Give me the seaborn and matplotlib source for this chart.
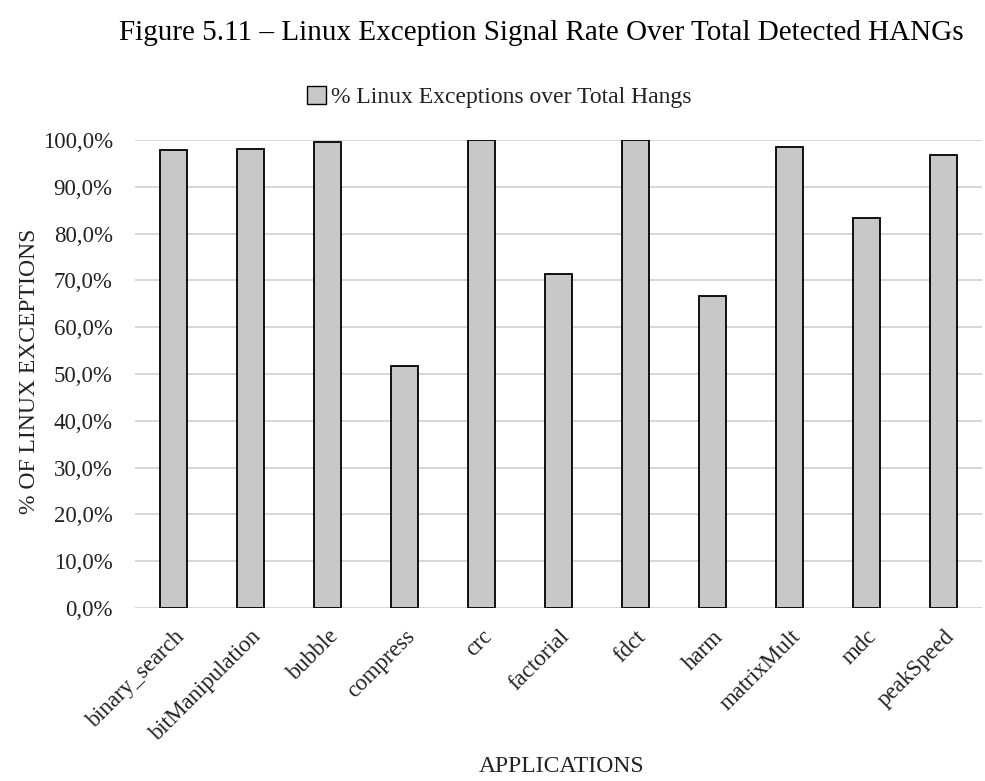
import matplotlib
matplotlib.use("Agg")
import matplotlib.pyplot as plt
import seaborn as sns
import pandas as pd
from matplotlib.ticker import FuncFormatter, MultipleLocator
from matplotlib.patches import Patch

applications = ["binary_search", "bitManipulation", "bubble", "compress", "crc",
                "factorial", "fdct", "harm", "matrixMult", "mdc", "peakSpeed"]
linux_exception_pct = [97.9, 98.1, 99.5, 51.7, 100.0, 71.4, 100.0, 66.7, 98.6, 83.3, 96.7]
series_name = "% Linux Exceptions over Total Hangs"

df = pd.DataFrame({"app": applications, "pct": linux_exception_pct})

sns.set_theme(style="white")
plt.rcParams["font.family"] = ["Liberation Serif", "DejaVu Serif"]

fig = plt.figure(figsize=(9.85, 7.81), dpi=100)
ax = fig.add_axes([0.137, 0.2215, 0.86, 0.5992])

sns.barplot(data=df, x="app", y="pct", color="#c8c8c8", width=0.34,
            edgecolor="black", linewidth=1.3, saturation=1, ax=ax, zorder=3)

ax.set_ylim(0, 100)
ax.set_xlim(-0.5, len(applications) - 0.5)
ax.yaxis.set_major_locator(MultipleLocator(10))
ax.yaxis.set_major_formatter(FuncFormatter(lambda v, _: f"{v:.1f}%".replace(".", ",")))
ax.grid(axis="y", color="#d0d0d0", linewidth=1.2, zorder=0)
ax.set_axisbelow(True)
for s in ax.spines.values():
    s.set_visible(False)

ax.tick_params(axis="y", labelsize=16.5, colors="#222222", pad=16, length=0)
ax.tick_params(axis="x", labelsize=16.5, colors="#222222", length=0, pad=13)
plt.setp(ax.get_xticklabels(), rotation=45, ha="right", rotation_mode="anchor")

ax.set_xlabel("")
ax.set_ylabel("")
fig.text(0.030, 0.524, "% OF LINUX EXCEPTIONS", rotation=90, ha="center", va="center",
         fontsize=17, color="#222222")
fig.text(0.57, 0.018, "APPLICATIONS", ha="center", va="center", fontsize=17, color="#222222")
fig.text(0.550, 0.958, "Figure 5.11 \u2013 Linux Exception Signal Rate Over Total Detected HANGs",
         ha="center", va="center", fontsize=21, color="black")

handle = Patch(facecolor="#c8c8c8", edgecolor="black", linewidth=1.0)
fig.legend([handle], [series_name], loc="center", bbox_to_anchor=(0.507, 0.876),
           frameon=False, fontsize=17, handlelength=0.8, handleheight=0.8,
           handletextpad=0.2, labelcolor="#222222")

fig.savefig("out.png", dpi=100)
